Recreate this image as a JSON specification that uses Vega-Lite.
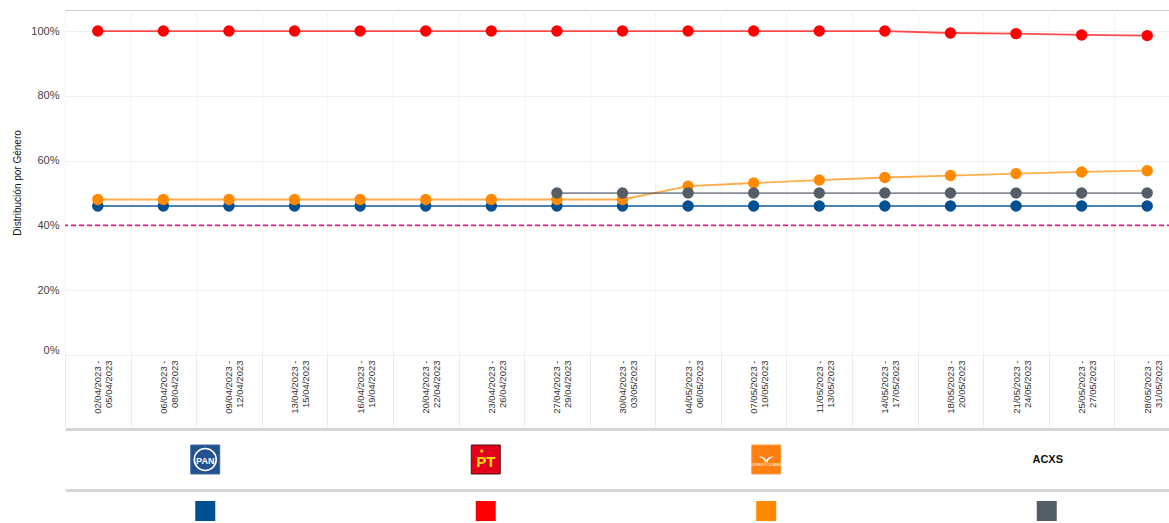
{
  "$schema": "https://vega.github.io/schema/vega-lite/v6.json",
  "padding": {"left": 12, "top": 9, "right": 0, "bottom": 0},
  "bounds": "flush",
  "spacing": 74,
  "config": {"font": "Liberation Sans"},
  "datasets": {
    "series": [
      {"p": "02/04/2023 - 05/04/2023", "g": "PAN", "v": 0.46},
      {"p": "06/04/2023 - 08/04/2023", "g": "PAN", "v": 0.46},
      {"p": "09/04/2023 - 12/04/2023", "g": "PAN", "v": 0.46},
      {"p": "13/04/2023 - 15/04/2023", "g": "PAN", "v": 0.46},
      {"p": "16/04/2023 - 19/04/2023", "g": "PAN", "v": 0.46},
      {"p": "20/04/2023 - 22/04/2023", "g": "PAN", "v": 0.46},
      {"p": "23/04/2023 - 26/04/2023", "g": "PAN", "v": 0.46},
      {"p": "27/04/2023 - 29/04/2023", "g": "PAN", "v": 0.46},
      {"p": "30/04/2023 - 03/05/2023", "g": "PAN", "v": 0.46},
      {"p": "04/05/2023 - 06/05/2023", "g": "PAN", "v": 0.46},
      {"p": "07/05/2023 - 10/05/2023", "g": "PAN", "v": 0.46},
      {"p": "11/05/2023 - 13/05/2023", "g": "PAN", "v": 0.46},
      {"p": "14/05/2023 - 17/05/2023", "g": "PAN", "v": 0.46},
      {"p": "18/05/2023 - 20/05/2023", "g": "PAN", "v": 0.46},
      {"p": "21/05/2023 - 24/05/2023", "g": "PAN", "v": 0.46},
      {"p": "25/05/2023 - 27/05/2023", "g": "PAN", "v": 0.46},
      {"p": "28/05/2023 - 31/05/2023", "g": "PAN", "v": 0.46},
      {"p": "02/04/2023 - 05/04/2023", "g": "PT", "v": 1.0},
      {"p": "06/04/2023 - 08/04/2023", "g": "PT", "v": 1.0},
      {"p": "09/04/2023 - 12/04/2023", "g": "PT", "v": 1.0},
      {"p": "13/04/2023 - 15/04/2023", "g": "PT", "v": 1.0},
      {"p": "16/04/2023 - 19/04/2023", "g": "PT", "v": 1.0},
      {"p": "20/04/2023 - 22/04/2023", "g": "PT", "v": 1.0},
      {"p": "23/04/2023 - 26/04/2023", "g": "PT", "v": 1.0},
      {"p": "27/04/2023 - 29/04/2023", "g": "PT", "v": 1.0},
      {"p": "30/04/2023 - 03/05/2023", "g": "PT", "v": 1.0},
      {"p": "04/05/2023 - 06/05/2023", "g": "PT", "v": 1.0},
      {"p": "07/05/2023 - 10/05/2023", "g": "PT", "v": 1.0},
      {"p": "11/05/2023 - 13/05/2023", "g": "PT", "v": 1.0},
      {"p": "14/05/2023 - 17/05/2023", "g": "PT", "v": 1.0},
      {"p": "18/05/2023 - 20/05/2023", "g": "PT", "v": 0.994},
      {"p": "21/05/2023 - 24/05/2023", "g": "PT", "v": 0.992},
      {"p": "25/05/2023 - 27/05/2023", "g": "PT", "v": 0.988},
      {"p": "28/05/2023 - 31/05/2023", "g": "PT", "v": 0.986},
      {"p": "02/04/2023 - 05/04/2023", "g": "MC", "v": 0.48},
      {"p": "06/04/2023 - 08/04/2023", "g": "MC", "v": 0.48},
      {"p": "09/04/2023 - 12/04/2023", "g": "MC", "v": 0.48},
      {"p": "13/04/2023 - 15/04/2023", "g": "MC", "v": 0.48},
      {"p": "16/04/2023 - 19/04/2023", "g": "MC", "v": 0.48},
      {"p": "20/04/2023 - 22/04/2023", "g": "MC", "v": 0.48},
      {"p": "23/04/2023 - 26/04/2023", "g": "MC", "v": 0.48},
      {"p": "27/04/2023 - 29/04/2023", "g": "MC", "v": 0.48},
      {"p": "30/04/2023 - 03/05/2023", "g": "MC", "v": 0.48},
      {"p": "04/05/2023 - 06/05/2023", "g": "MC", "v": 0.521},
      {"p": "07/05/2023 - 10/05/2023", "g": "MC", "v": 0.531},
      {"p": "11/05/2023 - 13/05/2023", "g": "MC", "v": 0.54},
      {"p": "14/05/2023 - 17/05/2023", "g": "MC", "v": 0.548},
      {"p": "18/05/2023 - 20/05/2023", "g": "MC", "v": 0.554},
      {"p": "21/05/2023 - 24/05/2023", "g": "MC", "v": 0.56},
      {"p": "25/05/2023 - 27/05/2023", "g": "MC", "v": 0.565},
      {"p": "28/05/2023 - 31/05/2023", "g": "MC", "v": 0.569},
      {"p": "27/04/2023 - 29/04/2023", "g": "ACXS", "v": 0.5},
      {"p": "30/04/2023 - 03/05/2023", "g": "ACXS", "v": 0.5},
      {"p": "04/05/2023 - 06/05/2023", "g": "ACXS", "v": 0.5},
      {"p": "07/05/2023 - 10/05/2023", "g": "ACXS", "v": 0.5},
      {"p": "11/05/2023 - 13/05/2023", "g": "ACXS", "v": 0.5},
      {"p": "14/05/2023 - 17/05/2023", "g": "ACXS", "v": 0.5},
      {"p": "18/05/2023 - 20/05/2023", "g": "ACXS", "v": 0.5},
      {"p": "21/05/2023 - 24/05/2023", "g": "ACXS", "v": 0.5},
      {"p": "25/05/2023 - 27/05/2023", "g": "ACXS", "v": 0.5},
      {"p": "28/05/2023 - 31/05/2023", "g": "ACXS", "v": 0.5}
    ],
    "partidos": [
      {"g": "PAN", "t": "PAN"},
      {"g": "PT", "t": "PT"},
      {"g": "MC", "t": ""},
      {"g": "ACXS", "t": "ACXS"}
    ]
  },
  "vconcat": [
    {
      "width": 1115,
      "height": 345,
      "view": {"stroke": "#cfcfcf"},
      "layer": [
        {
          "data": {"values": [{"meta": 0.4}]},
          "mark": {"type": "rule", "color": "#ec1590", "strokeDash": [5, 3], "strokeWidth": 1.6},
          "encoding": {"y": {"field": "meta", "type": "quantitative", "scale": {"domain": [0, 1.065], "nice": false}}}
        },
        {
          "data": {"name": "series"},
          "mark": {"type": "line", "strokeWidth": 1.8, "strokeOpacity": 0.7},
          "encoding": {
            "x": {"field": "p", "type": "nominal", "sort": null},
            "y": {"field": "v", "type": "quantitative"},
            "color": {"field": "g", "type": "nominal", "legend": null}
          }
        },
        {
          "data": {"name": "series"},
          "mark": {"type": "point", "filled": true, "size": 130, "opacity": 1},
          "encoding": {
            "x": {"field": "p", "type": "nominal", "sort": null,
              "scale": {"paddingInner": 0, "paddingOuter": 0},
              "axis": {
                "title": null,
                "labelAngle": -90,
                "labelAlign": "right",
                "labelBaseline": "middle",
                "labelExpr": "[slice(datum.label,0,12), slice(datum.label,13)]",
                "labelFontSize": 9.5,
                "labelLineHeight": 11,
                "labelColor": "#333333",
                "labelPadding": -67,
                "tickBand": "extent",
                "tickSize": 72,
                "tickColor": "#ebebeb",
                "domain": false,
                "grid": true,
                "gridColor": "#f4f4f4"
              }
            },
            "y": {"field": "v", "type": "quantitative",
              "scale": {"domain": [0, 1.065], "nice": false},
              "axis": {
                "format": ".0%",
                "values": [0, 0.2, 0.4, 0.6, 0.8, 1],
                "labelFlush": true,
                "domain": false,
                "ticks": false,
                "labelPadding": 6,
                "labelFontSize": 11,
                "labelColor": "#444444",
                "gridColor": "#f0f0f0",
                "title": "Distribución por Género",
                "titleFontSize": 10,
                "titleFontWeight": "normal",
                "titleColor": "#111111",
                "titlePadding": 8
              }
            },
            "color": {"field": "g", "type": "nominal", "legend": null,
              "scale": {"domain": ["PAN", "PT", "MC", "ACXS"], "range": ["#004f91", "#ff0000", "#ff8a00", "#555d66"]}}
          }
        }
      ]
    },
    {
      "bounds": "flush",
      "spacing": 0,
      "vconcat": [
        {
          "width": 1122,
          "height": 61,
          "view": {"stroke": null},
          "data": {"name": "partidos"},
          "encoding": {
            "x": {"field": "g", "type": "nominal", "sort": null,
              "scale": {"paddingInner": 0, "paddingOuter": 0.02},
              "axis": {"orient": "top", "labels": false, "ticks": false, "title": null, "grid": false, "domainColor": "#d6d6d6", "domainWidth": 3}}
          },
          "layer": [
            {
              "transform": [{"filter": "datum.g !== 'ACXS'"}],
              "mark": {"type": "square", "size": 840, "opacity": 1, "strokeWidth": 1},
              "encoding": {
                "fill": {"field": "g", "type": "nominal", "legend": null,
                  "scale": {"domain": ["PAN", "PT", "MC"], "range": ["#24518f", "#e2001a", "#ff7f11"]}},
                "stroke": {"field": "g", "type": "nominal", "legend": null,
                  "scale": {"domain": ["PAN", "PT", "MC"], "range": ["#3d679f", "#4a1010", "#ff9a40"]}}
              }
            },
            {
              "transform": [{"filter": "datum.g === 'PAN'"}],
              "mark": {"type": "circle", "size": 480, "filled": false, "stroke": "#ffffff", "strokeWidth": 1.6, "opacity": 1}
            },
            {
              "transform": [{"filter": "datum.g === 'PAN'"}],
              "mark": {"type": "text", "fontWeight": "bold", "baseline": "middle", "dy": 1, "fontSize": 9, "color": "#ffffff"},
              "encoding": {"text": {"field": "t"}}
            },
            {
              "transform": [{"filter": "datum.g === 'PT'"}],
              "mark": {"type": "text", "fontWeight": "bold", "baseline": "middle", "dy": 2, "fontSize": 15, "color": "#ffe100", "letterSpacing": 1},
              "encoding": {"text": {"field": "t"}}
            },
            {
              "transform": [{"filter": "datum.g === 'PT'"}],
              "mark": {"type": "text", "text": "★", "fontSize": 6, "color": "#ffe100", "dx": -4, "dy": -9}
            },
            {
              "transform": [{"filter": "datum.g === 'MC'"}],
              "mark": {"type": "point", "filled": true, "color": "#ffffff", "opacity": 1, "size": 260, "dy": -3,
                "shape": "M-1,-0.5 L-0.25,0.05 L-0.12,0.5 L0,0.2 L0.12,0.5 L0.25,0.05 L1,-0.5 L0.3,-0.25 L0,0.05 L-0.3,-0.25 Z"}
            },
            {
              "transform": [{"filter": "datum.g === 'MC'"}],
              "mark": {"type": "text", "text": "MOVIMIENTO CIUDADANO", "fontSize": 2.6, "color": "#ffffff", "dy": 6}
            },
            {
              "transform": [{"filter": "datum.g === 'ACXS'"}],
              "mark": {"type": "text", "fontWeight": "bold", "fontSize": 11, "color": "#111111", "baseline": "middle", "dx": 1},
              "encoding": {"text": {"field": "t"}}
            }
          ]
        },
        {
          "width": 1122,
          "height": 42,
          "view": {"stroke": null},
          "data": {"name": "partidos"},
          "mark": {"type": "square", "size": 400, "opacity": 1},
          "encoding": {
            "x": {"field": "g", "type": "nominal", "sort": null,
              "scale": {"paddingInner": 0, "paddingOuter": 0.02},
              "axis": {"orient": "top", "labels": false, "ticks": false, "title": null, "grid": false, "domainColor": "#d6d6d6", "domainWidth": 3}},
            "color": {"field": "g", "type": "nominal", "legend": null,
              "scale": {"domain": ["PAN", "PT", "MC", "ACXS"], "range": ["#004f91", "#ff0000", "#ff8a00", "#555d66"]}}
          }
        }
      ]
    }
  ]
}
